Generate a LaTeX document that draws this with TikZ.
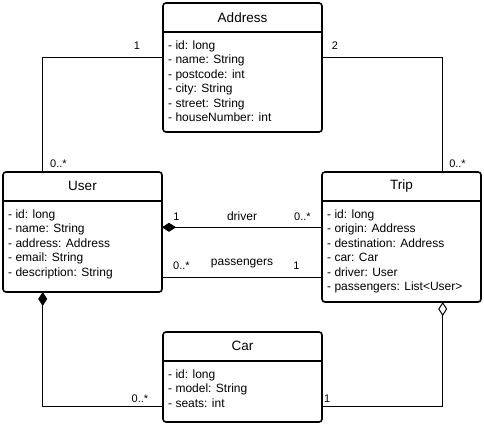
\documentclass[tikz,border=0pt]{standalone}
\usepackage{fontspec}
\setmainfont{Liberation Sans}
\usetikzlibrary{arrows.meta}

\tikzset{
    classbox/.style={draw, line width=1.6pt, rounded corners=3pt, inner sep=0pt, outer sep=0pt},
    classname/.style={font=\fontsize{13.5}{16}\selectfont, inner sep=0pt},
    attr/.style={font=\fontsize{12}{14}\selectfont, anchor=base west, inner sep=0pt},
    mult/.style={font=\fontsize{11}{13}\selectfont, anchor=base, inner sep=0pt},
    role/.style={font=\fontsize{12}{14}\selectfont, anchor=base, inner sep=0pt},
    assoc/.style={line width=1pt},
    composition/.style={assoc, {Diamond[length=14pt,width=9pt]}-},
    aggregation/.style={assoc, {Diamond[open,length=14pt,width=9pt,fill=white]}-}
}

\begin{document}
\begin{tikzpicture}[x=1pt,y=-1pt]
    \useasboundingbox (0,0) rectangle (484,425);

    % Class boxes
    \node[classbox, minimum width=159pt, minimum height=129pt] (address) at (242.5,67.5) {};
    \node[classbox, minimum width=159pt, minimum height=120pt] (user) at (82.5,232) {};
    \node[classbox, minimum width=159pt, minimum height=130pt] (trip) at (401.5,237) {};
    \node[classbox, minimum width=159pt, minimum height=90pt] (car) at (242.5,377) {};

    % Class names and header lines
    \foreach \c/\t in {address/Address, user/User, trip/Trip, car/Car} {
        \node[classname] (\c-name) at ([yshift=-14.3pt]\c.north) {\t};
        \draw[line width=1.6pt] ([yshift=-29pt]\c.north west) -- ([yshift=-29pt]\c.north east);
    }

    % Attributes
    \foreach \a [count=\i] in {id: long, name: String, postcode: int, city: String, street: String, houseNumber: int}
        \node[attr] (address-\i) at ([xshift=5pt,yshift={-(46.5pt+14.4pt*(\i-1))}]address.north west) {- \a};
    \foreach \a [count=\i] in {id: long, name: String, address: Address, email: String, description: String}
        \node[attr] (user-\i) at ([xshift=5pt,yshift={-(46.5pt+14.4pt*(\i-1))}]user.north west) {- \a};
    \foreach \a [count=\i] in {id: long, origin: Address, destination: Address, car: Car, driver: User, passengers: List<User>}
        \node[attr] (trip-\i) at ([xshift=5pt,yshift={-(46.5pt+14.4pt*(\i-1))}]trip.north west) {- \a};
    \foreach \a [count=\i] in {id: long, model: String, seats: int}
        \node[attr] (car-\i) at ([xshift=5pt,yshift={-(46.5pt+14.4pt*(\i-1))}]car.north west) {- \a};

    % Associations
    \draw[assoc] ([yshift=-54.3pt]address.north west) -| ([xshift=39.7pt]user.north west);
    \draw[assoc] ([yshift=-54.3pt]address.north east) -| ([xshift=120.7pt]trip.north west);
    \draw[composition] ([yshift=-55.3pt]user.north east) -- ([yshift=-55.3pt]trip.north west);
    \draw[assoc] ([yshift=-105.3pt]user.north east) -- ([yshift=-105.3pt]trip.north west);
    \draw[composition] ([xshift=39.7pt]user.south west) |- ([yshift=-74.7pt]car.north west);
    \draw[aggregation] ([xshift=120.7pt]trip.south west) |- ([yshift=-74.7pt]car.north east);

    % Multiplicities and roles
    \node[mult] (addr-user-a) at (137,49.5) {1};
    \node[mult] (addr-trip-a) at (335,49.5) {2};
    \node[mult] (addr-user-b) at (58.5,167) {0..*};
    \node[mult] (addr-trip-b) at (457.5,167) {0..*};
    \node[mult] (driver-a) at (176.5,220) {1};
    \node[role] (driver) at (242,220) {driver};
    \node[mult] (driver-b) at (302.5,220) {0..*};
    \node[mult] (pass-a) at (181.5,269) {0..*};
    \node[role] (pass) at (242,265.7) {passengers};
    \node[mult] (pass-b) at (296.5,269) {1};
    \node[mult] (user-car) at (140,402.3) {0..*};
    \node[mult] (trip-car) at (327.3,402.3) {1};
\end{tikzpicture}
\end{document}
